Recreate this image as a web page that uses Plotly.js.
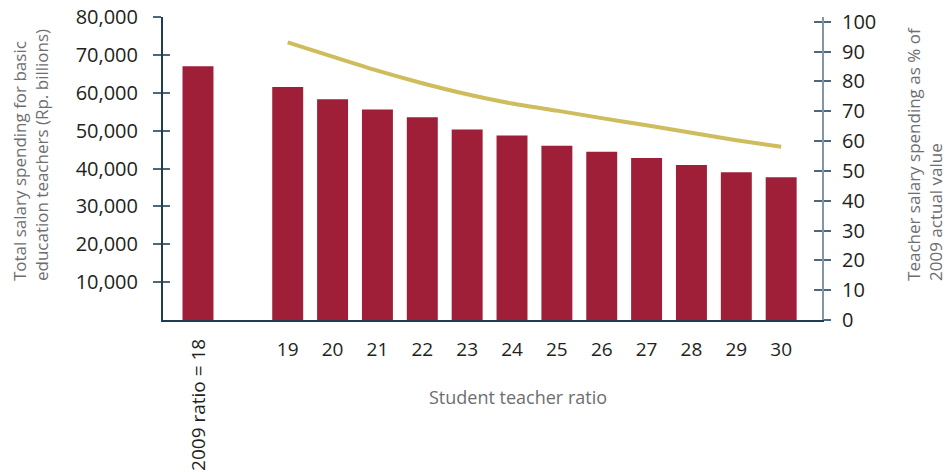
<!DOCTYPE html>
<html>
<head>
<meta charset="utf-8">
<script src="https://cdn.plot.ly/plotly-3.0.1.min.js"></script>
<style>html,body{margin:0;padding:0;background:#fff;}#chart{width:952px;height:472px;}</style>
</head>
<body>
<div id="chart"></div>
<script>
// ---- data ----
const xOrder = ["2009 ratio = 18", " ", "19", "20", "21", "22", "23", "24", "25", "26", "27", "28", "29", "30"];
const barCats = ["2009 ratio = 18", "19", "20", "21", "22", "23", "24", "25", "26", "27", "28", "29", "30"];
const barValues = [67000, 61500, 58300, 55600, 53500, 50300, 48700, 46000, 44400, 42800, 40900, 39000, 37700];
const lineCats = ["19", "20", "21", "22", "23", "24", "25", "26", "27", "28", "29", "30"];
const lineValues = [93.1, 88.3, 83.6, 79.4, 75.7, 72.6, 70.2, 67.7, 65.3, 62.8, 60.3, 58.1];
const leftTicks = [10000, 20000, 30000, 40000, 50000, 60000, 70000, 80000];
const rightTicks = [0, 10, 20, 30, 40, 50, 60, 70, 80, 90, 100];
const xTitle = "Student teacher ratio";
const leftTitle = "Total salary spending for basic<br>education teachers (Rp. billions)";
const rightTitle = "Teacher salary spending as % of<br>2009 actual value";

const FONT = "Open Sans, sans-serif";
const TICKC = "#231f20";
const TITLEC = "#6d6e71";
const AXC = "#1f3c50";
const RAXC = "#8197a8";

const traces = [
  {type: "bar", x: barCats, y: barValues, marker: {color: "#9e1f37"}, yaxis: "y", hoverinfo: "x+y"},
  {type: "scatter", mode: "lines", x: lineCats, y: lineValues, yaxis: "y2",
   line: {color: "#cfbc5c", width: 4, shape: "spline", smoothing: 0.6}}
];

const layout = {
  width: 952, height: 472,
  margin: {l: 163, r: 130, t: 17, b: 152, pad: 0},
  paper_bgcolor: "#fff", plot_bgcolor: "#fff",
  showlegend: false,
  bargap: 0.31,
  font: {family: FONT, color: TICKC, size: 19},
  xaxis: {
    type: "category", categoryorder: "array", categoryarray: xOrder,
    range: [-0.78, 13.91],
    tickvals: lineCats, ticktext: lineCats,
    ticks: "", showgrid: false, zeroline: false,
    showline: true, linecolor: AXC, linewidth: 2,
    tickfont: {family: FONT, size: 19, color: TICKC},
    ticklabelstandoff: 11
  },
  yaxis: {
    range: [0, 80000], tickvals: leftTicks, tickformat: ",",
    showgrid: false, zeroline: false,
    showline: true, linecolor: AXC, linewidth: 2,
    ticks: "outside", ticklen: 8, tickwidth: 2, tickcolor: "#4d677b",
    tickfont: {family: FONT, size: 20, color: TICKC},
    ticklabelstandoff: 11
  },
  yaxis3: {
    overlaying: "y", range: [0, 80000], tickvals: leftTicks,
    showticklabels: false, showgrid: false, zeroline: false, showline: false,
    ticks: "inside", ticklen: 7, tickwidth: 2, tickcolor: "#4d677b"
  },
  yaxis2: {
    overlaying: "y", side: "right", range: [0, 101.6], tickvals: rightTicks,
    showgrid: false, zeroline: false,
    showline: true, linecolor: RAXC, linewidth: 2,
    ticks: "outside", ticklen: 7, tickwidth: 2, tickcolor: "#4d677b",
    tickfont: {family: FONT, size: 20, color: TICKC},
    ticklabelstandoff: 7
  },
  yaxis4: {
    overlaying: "y", side: "right", range: [0, 101.6], tickvals: rightTicks,
    showticklabels: false, showgrid: false, zeroline: false, showline: false,
    ticks: "inside", ticklen: 8, tickwidth: 2, tickcolor: "#4d677b"
  },
  annotations: [
    {text: barCats[0], xref: "x", yref: "paper", x: barCats[0], y: -0.056,
     xanchor: "center", yanchor: "top", textangle: -90, showarrow: false,
     font: {family: FONT, size: 19, color: TICKC}},
    {text: xTitle, xref: "paper", yref: "paper", x: 0.538, y: -0.255,
     xanchor: "center", yanchor: "middle", showarrow: false,
     font: {family: FONT, size: 18, color: TITLEC}},
    {text: leftTitle, xref: "paper", yref: "paper", x: -0.2, y: 0.545,
     xanchor: "center", yanchor: "middle", textangle: -90, showarrow: false, align: "left",
     font: {family: FONT, size: 17, color: TITLEC}},
    {text: rightTitle, xref: "paper", yref: "paper", x: 1.1555, y: 0.5495,
     xanchor: "center", yanchor: "middle", textangle: -90, showarrow: false, align: "left",
     font: {family: FONT, size: 17, color: TITLEC}}
  ]
};

// dummy traces to activate overlay tick axes
traces.push({type: "scatter", x: [], y: [], yaxis: "y3", hoverinfo: "skip"});
traces.push({type: "scatter", x: [], y: [], yaxis: "y4", hoverinfo: "skip"});

Plotly.newPlot("chart", traces, layout, {staticPlot: true, displayModeBar: false});
</script>
</body>
</html>
